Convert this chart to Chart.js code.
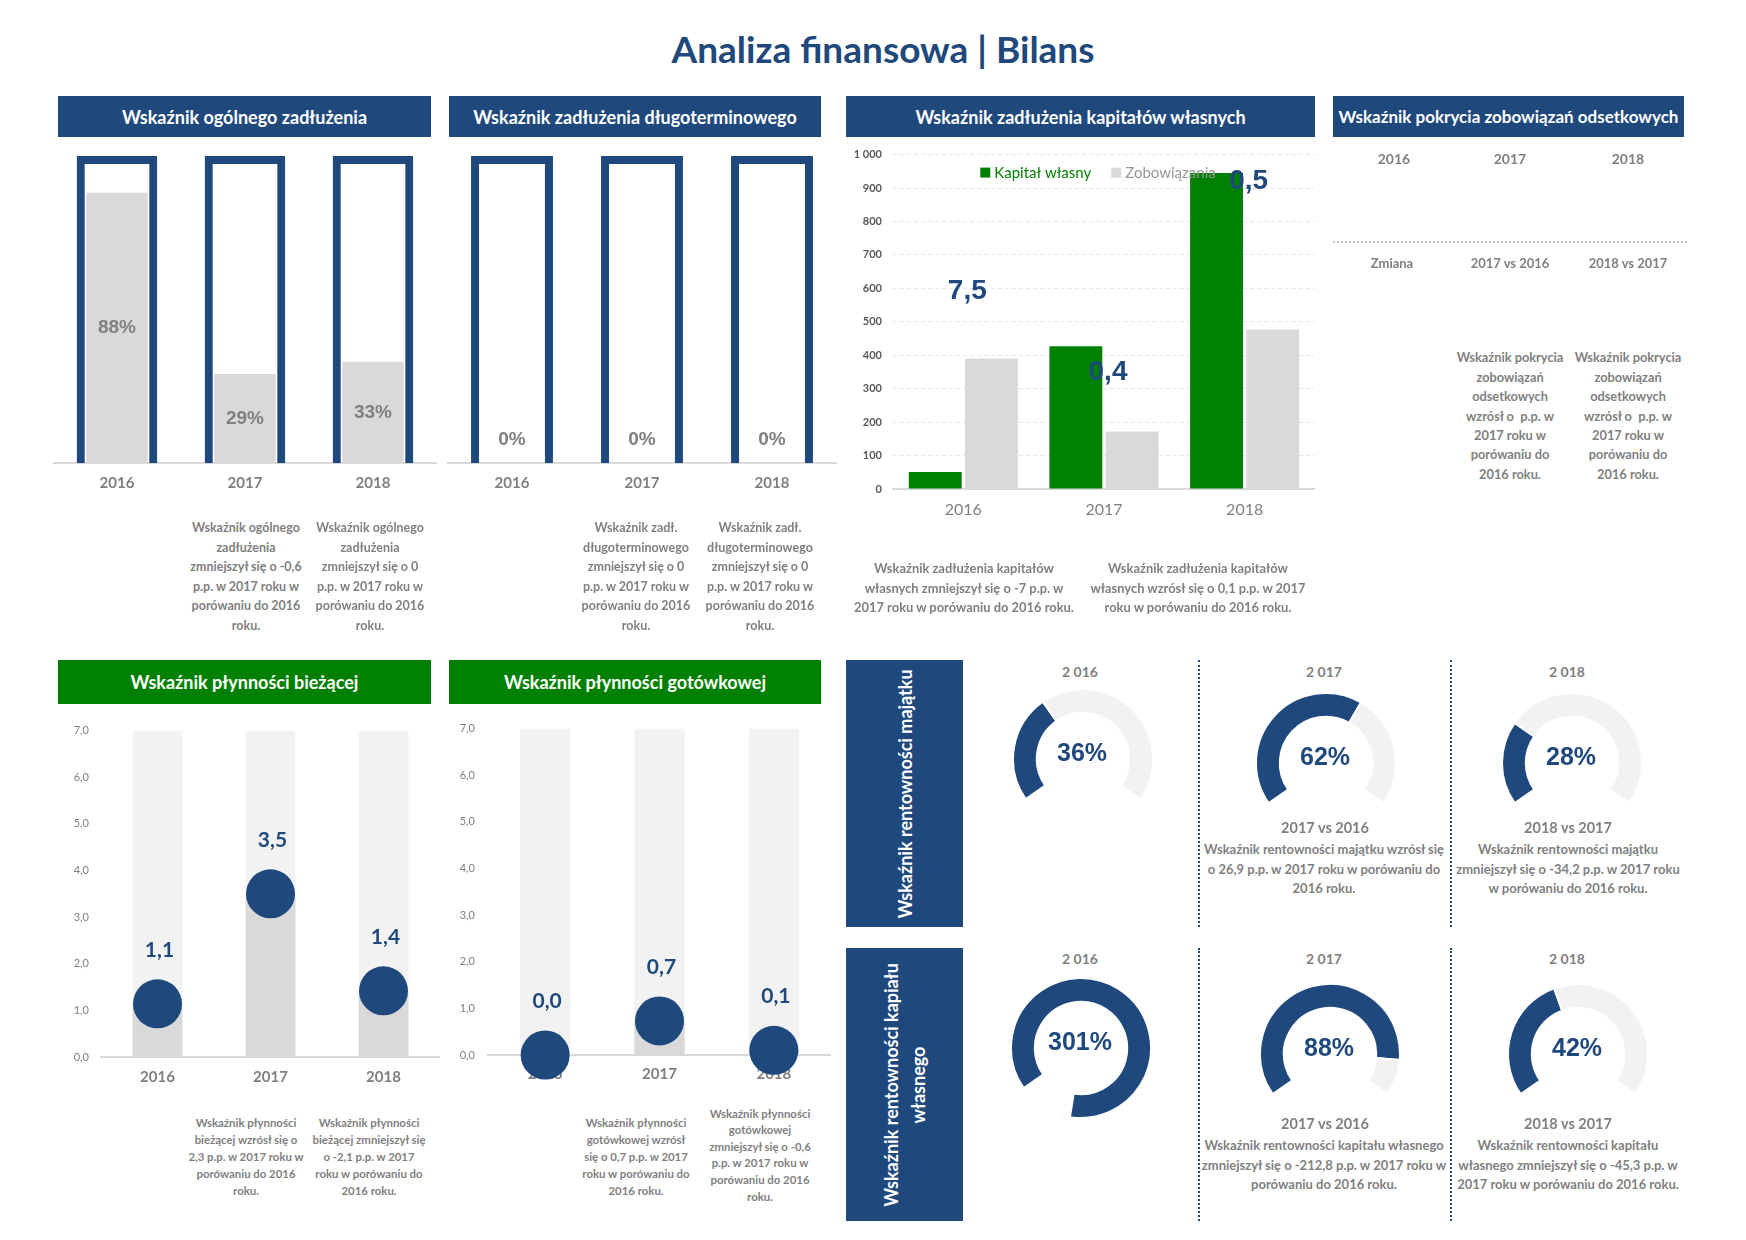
<!DOCTYPE html>
<html>
<head>
<meta charset="utf-8">
<script src="https://cdn.jsdelivr.net/npm/chart.js@4/dist/chart.umd.min.js"></script>
<style>
  body { margin: 0; background: #fff; width: 1746px; height: 1240px; position: relative; overflow: hidden; font-family: Lato, sans-serif; }
  .t { position: absolute; white-space: nowrap; color: #7f7f7f; font-weight: bold; }
  .hdr { position: absolute; color: #fff; font-weight: bold; font-size: 18px; display: flex; align-items: center; justify-content: center; white-space: nowrap; }
  .blue { background: #1f497d; }
  .green { background: #008000; }
  .vt { position: absolute; left: 50%; top: 50%; transform: translate(-50%, -50%) rotate(-90deg); color: #fff; font-size: 18px; font-weight: bold; line-height: 27px; text-align: center; white-space: nowrap; }
  .sep { position: absolute; border-left: 2px dotted #1f497d; width: 0; }
  canvas { position: absolute; }
</style>
</head>
<body>
<div class="t" style="left:10px;width:1746px;top:27px;line-height:44px;text-align:center;font-size:37px;color:#1f497d">Analiza finansowa | Bilans</div>

<div class="hdr blue" style="left:58px;top:96px;width:373px;height:41px">Wskaźnik ogólnego zadłużenia</div>
<div class="hdr blue" style="left:449px;top:96px;width:372px;height:41px">Wskaźnik zadłużenia długoterminowego</div>
<div class="hdr blue" style="left:846px;top:96px;width:469px;height:41px">Wskaźnik zadłużenia kapitałów własnych</div>
<div class="hdr blue" style="left:1333px;top:96px;width:351px;height:41px;font-size:17px">Wskaźnik pokrycia zobowiązań odsetkowych</div>
<div class="hdr green" style="left:58px;top:660px;width:373px;height:44px">Wskaźnik płynności bieżącej</div>
<div class="hdr green" style="left:449px;top:660px;width:372px;height:44px">Wskaźnik płynności gotówkowej</div>

<div class="hdr blue" style="left:846px;top:660px;width:117px;height:267px"><div class="vt">Wskaźnik rentowności majątku</div></div>
<div class="hdr blue" style="left:846px;top:948px;width:117px;height:273px"><div class="vt">Wskaźnik rentowności kapiału<br>własnego</div></div>

<div class="sep" style="left:1198px;top:660px;height:267px"></div>
<div class="sep" style="left:1450px;top:660px;height:267px"></div>
<div class="sep" style="left:1198px;top:948px;height:273px"></div>
<div class="sep" style="left:1450px;top:948px;height:273px"></div>
<div style="position:absolute;left:1333px;top:241px;width:354px;border-top:2px dotted #c4c4c4"></div>

<canvas id="debtTotalChart" width="384" height="360" style="left:53px;top:143px"></canvas>
<canvas id="debtLongChart" width="390" height="360" style="left:447px;top:143px"></canvas>
<canvas id="equityChart" width="469" height="392" style="left:846px;top:137px"></canvas>
<canvas id="liqCurrentChart" width="390" height="385" style="left:50px;top:712px"></canvas>
<canvas id="liqCashChart" width="391" height="386" style="left:440px;top:709px"></canvas>

<canvas id="roa0" width="150" height="150" style="left:1008px;top:684px"></canvas>
<canvas id="roa1" width="150" height="150" style="left:1251px;top:688px"></canvas>
<canvas id="roa2" width="150" height="150" style="left:1497px;top:688px"></canvas>
<canvas id="roe0" width="150" height="150" style="left:1006px;top:973px"></canvas>
<canvas id="roe1" width="150" height="150" style="left:1255px;top:979px"></canvas>
<canvas id="roe2" width="150" height="150" style="left:1503px;top:979px"></canvas>

<script>
const years = ["2016", "2017", "2018"];

// wskaźniki zadłużenia (%)
const debtTotal = [88, 29, 33];
const debtLong = [0, 0, 0];
const frameMax = [100, 100, 100];

// kapitał własny i zobowiązania
const equity = [51, 427, 945];
const liabilities = [390, 172, 477];
const equityRatio = [7.5, 0.4, 0.5];
const equityRatioAt = [590, 350, 920];

// płynność
const liqCurrent = [1.14, 3.5, 1.42];
const liqCash = [0.0, 0.73, 0.1];
const liqMax = [7, 7, 7];

// rentowność (%)
const roa = [36, 62, 28];
const roe = [301, 88, 42];
const gaugeYears = ["2 016", "2 017", "2 018"];

const BLUE = "#1f497d";
const GREY = "#7f7f7f";
const GAUGE_GAP = 44;

Chart.defaults.font.family = "Lato";
Chart.defaults.animation = false;
Chart.defaults.responsive = false;
Chart.defaults.plugins.legend.display = false;
Chart.defaults.plugins.tooltip.enabled = false;

function comma(v, d) {
    return v.toFixed(d).replace(".", ",");
}

// --- text blocks ---
function put(html, css) {
    const d = document.createElement("div");
    d.className = "t";
    d.innerHTML = html;
    Object.assign(d.style, css);
    document.body.appendChild(d);
}
function note(cx, cy, lines, size, lh) {
    put(lines.join("<br>"), {
        left: (cx - 160) + "px", width: "320px", top: (cy - lh / 2) + "px",
        fontSize: size + "px", lineHeight: lh + "px", textAlign: "center"
    });
}

note(246, 528, ["Wskaźnik ogólnego", "zadłużenia", "zmniejszył się o -0,6", "p.p. w 2017 roku w", "porówaniu do 2016", "roku."], 12.5, 19.5);
note(370, 528, ["Wskaźnik ogólnego", "zadłużenia", "zmniejszył się o 0", "p.p. w 2017 roku w", "porówaniu do 2016", "roku."], 12.5, 19.5);
note(636, 528, ["Wskaźnik zadł.", "długoterminowego", "zmniejszył się o 0", "p.p. w 2017 roku w", "porówaniu do 2016", "roku."], 12.5, 19.5);
note(760, 528, ["Wskaźnik zadł.", "długoterminowego", "zmniejszył się o 0", "p.p. w 2017 roku w", "porówaniu do 2016", "roku."], 12.5, 19.5);
note(964, 569, ["Wskaźnik zadłużenia kapitałów", "własnych zmniejszył się o -7 p.p. w", "2017 roku w porówaniu do 2016 roku."], 12.9, 19.5);
note(1198, 569, ["Wskaźnik zadłużenia kapitałów", "własnych wzrósł się o 0,1 p.p. w 2017", "roku w porówaniu do 2016 roku."], 12.9, 19.5);

// tabela pokrycia odsetek
note(1394, 159, ["2016"], 14, 20);
note(1510, 159, ["2017"], 14, 20);
note(1628, 159, ["2018"], 14, 20);
note(1392, 263, ["Zmiana"], 13, 20);
note(1510, 263, ["2017 vs 2016"], 13, 20);
note(1628, 263, ["2018 vs 2017"], 13, 20);
const coverNote = ["Wskaźnik pokrycia", "zobowiązań", "odsetkowych", "wzrósł o&nbsp; p.p. w", "2017 roku w", "porówaniu do", "2016 roku."];
note(1510, 358, coverNote, 12.8, 19.4);
note(1628, 358, coverNote, 12.8, 19.4);

note(246, 1122, ["Wskaźnik płynności", "bieżącej wzrósł się o", "2,3 p.p. w 2017 roku w", "porówaniu do 2016", "roku."], 11.4, 17);
note(369, 1122, ["Wskaźnik płynności", "bieżącej zmniejszył się", "o -2,1 p.p. w 2017", "roku w porówaniu do", "2016 roku."], 11.4, 17);
note(636, 1122, ["Wskaźnik płynności", "gotówkowej wzrósł", "się o 0,7 p.p. w 2017", "roku w porówaniu do", "2016 roku."], 11.4, 17);
note(760, 1114, ["Wskaźnik płynności", "gotówkowej", "zmniejszył się o -0,6", "p.p. w 2017 roku w", "porówaniu do 2016", "roku."], 11.4, 16.6);

// rentowność - opisy
[1080, 1324, 1567].forEach((x, i) => {
    note(x, 672, [gaugeYears[i]], 14, 20);
    note(x, 959, [gaugeYears[i]], 14, 20);
});
note(1325, 828, ["2017 vs 2016"], 14.5, 20);
note(1568, 828, ["2018 vs 2017"], 14.5, 20);
note(1325, 1124, ["2017 vs 2016"], 14.5, 20);
note(1568, 1124, ["2018 vs 2017"], 14.5, 20);
note(1324, 850, ["Wskaźnik rentowności majątku wzrósł się", "o 26,9 p.p. w 2017 roku w porówaniu do", "2016 roku."], 13, 19.5);
note(1568, 850, ["Wskaźnik rentowności majątku", "zmniejszył się o -34,2 p.p. w 2017 roku", "w porówaniu do 2016 roku."], 13, 19.5);
note(1324, 1146, ["Wskaźnik rentowności kapitału własnego", "zmniejszył się o -212,8 p.p. w 2017 roku w", "porówaniu do 2016 roku."], 13, 19.5);
note(1568, 1146, ["Wskaźnik rentowności kapitału", "własnego zmniejszył się o -45,3 p.p. w", "2017 roku w porówaniu do 2016 roku."], 13, 19.5);

// --- frame bar charts ---
const pctLabels = {
    id: "pctLabels",
    afterDatasetsDraw(chart) {
        const ctx = chart.ctx;
        const ds = chart.data.datasets[1];
        ctx.save();
        ctx.font = "bold 19px 'Liberation Sans'";
        ctx.fillStyle = GREY;
        ctx.textAlign = "center";
        ctx.textBaseline = "middle";
        chart.getDatasetMeta(1).data.forEach((bar, i) => {
            const y = Math.min((bar.y + bar.base) / 2, bar.base - 23);
            ctx.fillText(ds.data[i] + "%", bar.x, y);
        });
        ctx.restore();
    }
};

function frameChart(id, values) {
    new Chart(id, {
        type: "bar",
        data: {
            labels: years,
            datasets: [{
                data: frameMax,
                backgroundColor: "rgba(0,0,0,0)",
                borderColor: BLUE,
                borderWidth: 8,
                borderSkipped: "bottom",
                grouped: false,
                barPercentage: 0.63,
                categoryPercentage: 1
            }, {
                data: values,
                backgroundColor: "#d9d9d9",
                grouped: false,
                barPercentage: 0.48,
                categoryPercentage: 1
            }]
        },
        options: {
            layout: { padding: { top: 13 } },
            scales: {
                x: {
                    grid: { display: false, drawTicks: false },
                    border: { color: "#d9d9d9", width: 2 },
                    ticks: { color: GREY, font: { size: 15, weight: "bold" }, padding: 11 },
                    afterFit: s => { s.height = 40; }
                },
                y: { display: false, min: 0, max: 100 }
            }
        },
        plugins: [pctLabels]
    });
}
frameChart("debtTotalChart", debtTotal);
frameChart("debtLongChart", debtLong);

// --- kapitał własny vs zobowiązania ---
const equityExtras = {
    id: "equityExtras",
    afterDatasetsDraw(chart) {
        const { ctx, chartArea, scales: { x, y } } = chart;
        ctx.save();
        ctx.font = "15px Lato";
        ctx.textBaseline = "middle";
        const items = chart.data.datasets.map(d => ({ text: d.label, color: d.backgroundColor, w: ctx.measureText(d.label).width }));
        const textCol = ["#008000", "#969696"];
        const total = items.reduce((s, it) => s + 14 + it.w, 0) + 20;
        let lx = (chartArea.left + chartArea.right) / 2 - total / 2 - 6;
        const ly = chartArea.top + 18;
        items.forEach((it, i) => {
            ctx.fillStyle = it.color;
            ctx.fillRect(lx, ly - 5, 10, 10);
            ctx.fillStyle = textCol[i];
            ctx.fillText(it.text, lx + 14, ly + 1);
            lx += 14 + it.w + 20;
        });
        ctx.font = "bold 28px 'Liberation Sans'";
        ctx.fillStyle = BLUE;
        ctx.textAlign = "center";
        equityRatio.forEach((r, i) => {
            ctx.fillText(comma(r, 1), x.getPixelForValue(i) + 4, y.getPixelForValue(equityRatioAt[i]));
        });
        ctx.restore();
    }
};

new Chart("equityChart", {
    type: "bar",
    data: {
        labels: years,
        datasets: [{
            label: "Kapitał własny",
            data: equity,
            backgroundColor: "#008000",
            barPercentage: 0.94,
            categoryPercentage: 0.8
        }, {
            label: "Zobowiązania",
            data: liabilities,
            backgroundColor: "#d9d9d9",
            barPercentage: 0.94,
            categoryPercentage: 0.8
        }]
    },
    options: {
        layout: { padding: 0, autoPadding: false },
        scales: {
            x: {
                grid: { display: false, drawTicks: false },
                border: { color: "#d9d9d9", width: 2 },
                ticks: { color: GREY, font: { size: 16 }, padding: 11 },
                afterFit: s => { s.height = 40; }
            },
            y: {
                min: 0,
                max: 1000,
                ticks: {
                    stepSize: 100,
                    padding: 11,
                    color: "#595959",
                    font: { size: 11, weight: "bold" },
                    callback: v => String(v).replace(/\B(?=(\d{3})+(?!\d))/g, " ")
                },
                grid: { color: "#e6e6e6", drawTicks: false },
                border: { display: false, dash: [4, 3] },
                afterFit: s => { s.width = 47; }
            }
        }
    },
    plugins: [equityExtras]
});

// --- płynność ---
const dotLabels = {
    id: "dotLabels",
    afterDatasetsDraw(chart) {
        const ctx = chart.ctx;
        const ds = chart.data.datasets[0];
        ctx.save();
        ctx.font = "bold 21px Lato";
        ctx.fillStyle = BLUE;
        ctx.textAlign = "center";
        ctx.textBaseline = "middle";
        chart.getDatasetMeta(0).data.forEach((p, i) => {
            ctx.fillText(comma(ds.data[i], 1), p.x + 2, p.y - 54);
        });
        ctx.restore();
    }
};

function liquidityChart(id, values, axisW, pad, xPad) {
    new Chart(id, {
        data: {
            labels: years,
            datasets: [{
                type: "line",
                data: values,
                showLine: false,
                pointStyle: "circle",
                pointRadius: 24.5,
                pointBackgroundColor: BLUE,
                pointBorderWidth: 0,
                clip: false,
                order: 0
            }, {
                type: "bar",
                data: values,
                backgroundColor: "#d9d9d9",
                grouped: false,
                barPercentage: 0.44,
                categoryPercentage: 1,
                order: 1
            }, {
                type: "bar",
                data: liqMax,
                backgroundColor: "#f2f2f2",
                grouped: false,
                barPercentage: 0.44,
                categoryPercentage: 1,
                order: 2
            }]
        },
        options: {
            layout: { padding: 0, autoPadding: false },
            scales: {
                x: {
                    grid: { display: false, drawTicks: false },
                    border: { color: "#d9d9d9", width: 2 },
                    ticks: { color: GREY, font: { size: 15, weight: "bold" }, padding: xPad },
                    afterFit: s => { s.height = 40; }
                },
                y: {
                    min: 0,
                    max: 7,
                    ticks: { stepSize: 1, padding: pad, color: GREY, font: { size: 11 }, callback: v => comma(v, 1) },
                    grid: { display: false, drawTicks: false },
                    border: { display: false },
                    afterFit: s => { s.width = axisW; }
                }
            }
        },
        plugins: [dotLabels]
    });
}
liquidityChart("liqCurrentChart", liqCurrent, 51, 12, 11);
liquidityChart("liqCashChart", liqCash, 48, 13, 10);

// --- rentowność: półokrągłe wskaźniki ---
const gaugeText = {
    id: "gaugeText",
    afterDatasetsDraw(chart) {
        const ctx = chart.ctx;
        const arc = chart.getDatasetMeta(0).data[0];
        ctx.save();
        ctx.font = "bold 25px 'Liberation Sans'";
        ctx.fillStyle = BLUE;
        ctx.textAlign = "center";
        ctx.textBaseline = "middle";
        ctx.fillText(chart.data.datasets[0].data[0] + "%", arc.x - 1, arc.y - 5);
        ctx.restore();
    }
};

function gauge(id, value) {
    new Chart(id, {
        type: "doughnut",
        data: {
            datasets: [{
                data: [value, Math.max(0, 100 - value), GAUGE_GAP],
                backgroundColor: [BLUE, "#f2f2f2", "rgba(0,0,0,0)"],
                borderColor: ["#fff", "#fff", "rgba(0,0,0,0)"],
                borderWidth: 2
            }]
        },
        options: {
            rotation: -125,
            circumference: 360,
            cutout: "66%",
            radius: 70,
            layout: { padding: 5 }
        },
        plugins: [gaugeText]
    });
}
roa.forEach((v, i) => gauge("roa" + i, v));
roe.forEach((v, i) => gauge("roe" + i, v));
</script>
</body>
</html>
